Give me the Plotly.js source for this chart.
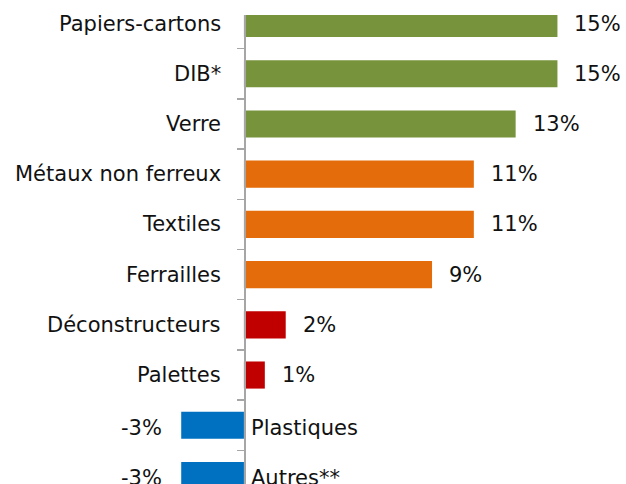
<!DOCTYPE html>
<html>
<head>
<meta charset="utf-8">
<script src="https://cdn.plot.ly/plotly-3.0.1.min.js"></script>
<style>html,body{margin:0;padding:0;background:#fff;}#chart{width:626px;height:484px;}</style>
</head>
<body>
<div id="chart"></div>
<script>
const categories = ["Papiers-cartons", "DIB*", "Verre", "Métaux non ferreux", "Textiles", "Ferrailles", "Déconstructeurs", "Palettes", "Plastiques", "Autres**"];
const values = [15, 15, 13, 11, 11, 9, 2, 1, -3, -3];
const valueLabels = ["15%", "15%", "13%", "11%", "11%", "9%", "2%", "1%", "-3%", "-3%"];
const barColors = ["#77933C", "#77933C", "#77933C", "#E46C0A", "#E46C0A", "#E46C0A", "#C00000", "#C00000", "#0070C0", "#0070C0"];

const FONT = "DejaVu Sans, Verdana, sans-serif";
const fontSize = 21;

const trace = {
  type: "bar",
  orientation: "h",
  x: values,
  y: categories,
  marker: {color: barColors, line: {width: 0}},
  width: 0.54,
  hoverinfo: "none"
};

const annotations = [];
categories.forEach((c, i) => {
  const v = values[i];
  const ys = v >= 0 ? 0 : -3;
  annotations.push({
    x: 0, y: c, xref: "x", yref: "y",
    text: c, showarrow: false,
    xanchor: v >= 0 ? "right" : "left",
    xshift: v >= 0 ? -21 : 5, yshift: ys,
    font: {family: FONT, size: fontSize, color: "#111"}
  });
  annotations.push({
    x: v, y: c, xref: "x", yref: "y",
    text: valueLabels[i], showarrow: false,
    xanchor: v >= 0 ? "left" : "right",
    xshift: v >= 0 ? 15 : -17, yshift: ys,
    font: {family: FONT, size: fontSize, color: "#111"}
  });
});

const layout = {
  width: 626, height: 484,
  margin: {l: 0, r: 0, t: 15, b: 0, pad: 0},
  paper_bgcolor: "#fff", plot_bgcolor: "#fff",
  showlegend: false,
  bargap: 0.46,
  xaxis: {range: [-11.67, 18.28], visible: false, showgrid: false, zeroline: false, fixedrange: true},
  yaxis: {
    type: "category",
    categoryorder: "array", categoryarray: categories,
    range: [9.17, -0.17],
    anchor: "free", position: 244 / 626,
    showline: true, linecolor: "#A6A6A6", linewidth: 1.5,
    ticks: "outside", tickson: "boundaries", ticklen: 7, tickcolor: "#A6A6A6", tickwidth: 1.5,
    showticklabels: false, showgrid: false, zeroline: false
  },
  annotations: annotations,
  font: {family: FONT, size: fontSize, color: "#111"}
};

Plotly.newPlot("chart", [trace], layout, {staticPlot: true, displayModeBar: false});
</script>
</body>
</html>
